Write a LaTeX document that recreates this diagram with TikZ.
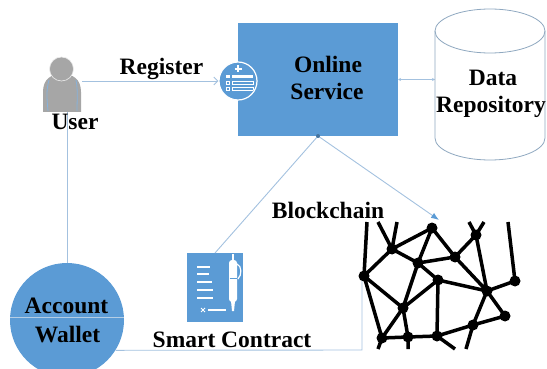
\documentclass[tikz,border=0pt]{standalone}
\usepackage{fontspec}
\setmainfont{Liberation Serif}
\usetikzlibrary{arrows.meta}
\definecolor{office}{HTML}{5B9BD5}
\definecolor{link}{HTML}{A3C1DF}
\definecolor{drum}{HTML}{8FA8C0}
\definecolor{person}{HTML}{A6A6A6}
\tikzset{
  conn/.style={draw=link, line width=0.9pt},
  lbl/.style={font=\fontsize{23.5}{27}\selectfont\bfseries, inner sep=0pt, anchor=base},
  mesh/.style={line width=3.5pt, black},
  knot/.style={circle, fill=black, minimum size=11pt, inner sep=0pt},
  ghost/.style={inner sep=0pt, outer sep=0pt},
}
\begin{document}
\begin{tikzpicture}[x=1pt,y=-1pt]
\useasboundingbox (0,0) rectangle (547,369);

% ---- main blocks ----
\node[ghost, minimum width=30pt, minimum height=34pt] (user) at (67,92) {};
\node[ghost, fill=office, minimum width=160pt, minimum height=113pt] (online) at (318,79.5) {};
\node[ghost, minimum width=110pt, minimum height=151pt] (repo) at (490,84.5) {};
\node[ghost, fill=office, minimum width=56pt, minimum height=69pt] (contract) at (215,287.5) {};
\node[circle, fill=office, minimum size=114pt, inner sep=0pt] (wallet) at (67,320) {};
\node[circle, fill=office, draw=white, line width=1.2pt, minimum size=38pt, inner sep=0pt] (reg) at (238,81) {};

% ---- blockchain mesh points ----
\coordinate (A) at (432,228);
\coordinate (B) at (476,235);
\coordinate (C) at (392,249);
\coordinate (D) at (418,263);
\coordinate (E) at (455,257);
\coordinate (F) at (364,276);
\coordinate (G) at (438,280);
\coordinate (H) at (515,281);
\coordinate (I) at (487,291);
\coordinate (J) at (403,308);
\coordinate (K) at (505,316);
\coordinate (L) at (473,325);
\coordinate (M) at (382,338);
\coordinate (N) at (408,337);
\coordinate (O) at (437,336);
% loose ends of the mesh
\coordinate (fF) at (367,222);
\coordinate (fC1) at (378,222);
\coordinate (fC2) at (397,222);
\coordinate (fB1) at (469,222);
\coordinate (fB2) at (484,222);
\coordinate (fH) at (508,222);
\coordinate (fM) at (378,349);
\coordinate (fN) at (408,349);
\coordinate (fO) at (455,349);
\coordinate (fL) at (466,349);
\coordinate (tip) at (439,220);
\coordinate (bend) at (362,350);

% ---- connectors ----
\draw[conn, -{Straight Barb[length=4pt,width=8pt]}] (reg.west -| user.east) -- (reg.west);
\draw[conn] (user.south) -- (wallet.north);
\draw[conn, {Stealth[length=3pt,width=3pt]}-{Stealth[length=3pt,width=3pt]}] (online.east) -- (online.east -| repo.west);
\draw[conn] (contract.north) -- (online.south);
\draw[conn, -{Latex[length=8pt,width=6pt,color=office]}] (online.south) -- (tip);
\fill[office!75!black] (online.south) circle[radius=2pt];
\draw[conn] (wallet.-32) -- (bend) -- (bend |- F);

% ---- register badge ----
\begin{scope}
  \clip (238,81) circle[radius=18pt];
  \draw[white, line width=1.4pt] (234.5,69) -- (241.5,69) (238,65.5) -- (238,72.5);
  \fill[white] (226,75.5) rectangle (229.5,78.5);
  \fill[white] (232,75.5) rectangle (253,78.5);
  \draw[white, line width=0.8pt] (226,81.5) rectangle (229.5,84.5);
  \draw[white, line width=0.8pt] (232,81.5) rectangle (253,84.5);
  \draw[white, line width=0.8pt] (226,87.5) rectangle (229.5,90.5);
  \draw[white, line width=0.8pt] (232,87.5) rectangle (253,90.5);
\end{scope}

% ---- user silhouette ----
\fill[person] (43,112) -- (43,92) .. controls (43,79) and (51,74) .. (62,74)
  .. controls (73,74) and (81,79) .. (81,92) -- (81,112) -- cycle;
\filldraw[fill=person, draw=white!85!gray, line width=0.6pt] (61.5,69) circle[radius=12pt];
\draw[link!60!office, line width=0.8pt] (49,80) .. controls (46,90) and (47,100) .. (48,111);
\draw[link!60!office, line width=0.8pt] (76,80) .. controls (78,90) and (77,100) .. (77,111);

% ---- data repository drum ----
\filldraw[fill=white, draw=drum, line width=0.8pt] (435,31) -- (435,138)
  arc[start angle=180, end angle=360, x radius=55pt, y radius=22pt] -- (545,31);
\draw[drum, line width=0.8pt] (490,31) ellipse [x radius=55pt, y radius=22pt];

% ---- smart contract sheet ----
\draw[white, line width=1.3pt] (197,267) -- (210,267) (197,274) -- (209,274)
  (197,282) -- (212,282) (197,290) -- (213,290) (197,298) -- (213,298)
  (208,310) -- (226,310);
\draw[white, line width=1pt] (201,308) -- (205,312) (201,312) -- (205,308);
\fill[white, rounded corners=3pt] (229,260) rectangle (237,302);
\fill[white] (231,301) -- (235,301) -- (234,311) -- (232,311) -- cycle;
\fill[white] (232,254) rectangle (234,261);
\draw[office, line width=0.9pt] (229.5,278) -- (236.5,278);
\draw[white, line width=1.2pt] (237,264) .. controls (242,266) and (242,275) .. (238,279);

% ---- wallet divider ----
\draw[link!80!white, line width=0.8pt] (wallet.177) -- (wallet.3);

% ---- blockchain mesh ----
\draw[mesh] (F) -- (fF) (C) -- (fC1) (C) -- (fC2) (B) -- (fB1) (B) -- (fB2) (H) -- (fH)
  (C) -- (A) (C) -- (F) (C) -- (D) (A) -- (D) (A) -- (E) (D) -- (E) (D) -- (G)
  (D) -- (J) (E) -- (B) (E) -- (I) (B) -- (I) (H) -- (I) (G) -- (I) (G) -- (J)
  (G) -- (O) (F) -- (J) (F) -- (M) (J) -- (M) (J) -- (N) (M) -- (N) (N) -- (O)
  (O) -- (L) (L) -- (I) (L) -- (K) (I) -- (K)
  (M) -- (fM) (N) -- (fN) (O) -- (fO) (L) -- (fL);
\foreach \p in {A,B,C,D,E,F,G,H,I,J,K,L,M,N,O}
  \node[knot] at (\p) {};

% ---- labels ----
\node[lbl] (tReg) at (161.5,75) {Register};
\node[lbl] (tUser) at (75,130) {User};
\node[lbl] (tOn) at (328,73) {Online};
\node[lbl] (tSv) at (327,100) {Service};
\node[lbl] (tData) at (493,86) {Data};
\node[lbl] (tRepo) at (491,113) {Repository};
\node[lbl] (tChain) at (328,218) {Blockchain};
\node[lbl] (tSC) at (232,347) {Smart Contract};
\node[lbl] (tAcc) at (66.5,313) {Account};
\node[lbl] (tWal) at (67.5,342) {Wallet};
\end{tikzpicture}
\end{document}
